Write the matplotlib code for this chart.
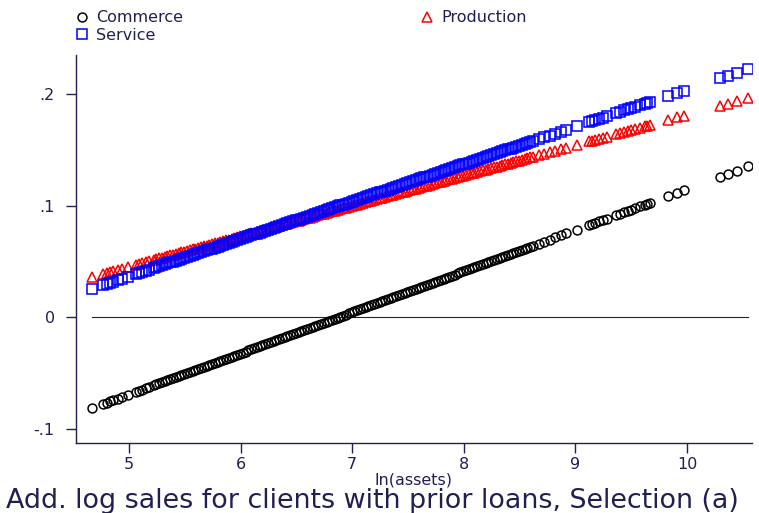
import matplotlib.pyplot as plt

# ln(assets) of the clients, one entry per plotted client
ln_assets = [
    4.67, 4.77, 4.80, 4.83, 4.86, 4.90, 4.94, 4.99, 5.06, 5.09, 5.12, 5.15, 5.18,
    5.22, 5.27, 5.32, 5.37, 5.42, 5.47, 5.52, 5.57, 5.62, 5.67,
    5.72, 5.77, 5.82, 5.87, 5.92, 5.97, 6.02, 6.07, 6.12, 6.17,
    6.22, 6.27, 6.32, 6.37, 6.42, 6.47, 6.52, 6.57, 6.62, 6.67,
    6.72, 6.77, 6.82, 6.87, 6.92, 6.97, 7.02, 7.07, 7.12, 7.17,
    7.22, 7.27, 7.32, 7.37, 7.42, 7.47, 7.52, 7.57, 7.62, 7.67,
    7.72, 7.77, 7.82, 7.87, 7.92, 7.97, 8.02, 8.07, 8.12, 8.17,
    8.22, 8.27, 8.32, 8.37, 8.42, 8.47, 8.52, 8.57, 8.62, 8.67,
    8.72, 8.77, 8.82, 8.87,
    8.92, 9.01, 9.12, 9.15, 9.18, 9.21, 9.25, 9.28, 9.36, 9.40,
    9.44, 9.47, 9.50, 9.53, 9.58, 9.62, 9.64, 9.67,
    9.83, 9.91, 9.97, 10.30, 10.37, 10.45, 10.55,
    # the crowded middle of the distribution
    5.245, 5.295, 5.345, 5.395, 5.445, 5.495, 5.545, 5.595, 5.645, 5.695,
    5.745, 5.795, 5.845, 5.895, 5.945, 5.995, 6.045, 6.095, 6.145, 6.195,
    6.245, 6.295, 6.345, 6.395, 6.445, 6.495, 6.545, 6.595, 6.645, 6.695,
    6.745, 6.795, 6.845, 6.895, 6.945, 6.995, 7.045, 7.095, 7.145, 7.195,
    7.245, 7.295, 7.345, 7.395, 7.445, 7.495, 7.545, 7.595, 7.645, 7.695,
    7.745, 7.795, 7.845, 7.895, 7.945, 7.995, 8.045, 8.095, 8.145, 8.195,
    8.245, 8.295, 8.345, 8.395, 8.445, 8.495, 8.545, 8.595,
]

# additional log sales by sector
commerce = [
    -0.0815, -0.0778, -0.0767, -0.0756, -0.0745, -0.0730, -0.0715, -0.0697, -0.0671, -0.0660, -0.0649, -0.0638, -0.0627,
    -0.0612, -0.0594, -0.0575, -0.0557, -0.0538, -0.0520, -0.0501, -0.0483, -0.0465, -0.0446,
    -0.0428, -0.0409, -0.0391, -0.0373, -0.0354, -0.0336, -0.0317, -0.0299, -0.0281, -0.0262,
    -0.0244, -0.0225, -0.0207, -0.0188, -0.0170, -0.0152, -0.0133, -0.0115, -0.0096, -0.0078,
    -0.0060, -0.0041, -0.0023, -0.0004, 0.0014, 0.0033, 0.0051, 0.0069, 0.0088, 0.0106,
    0.0125, 0.0143, 0.0161, 0.0180, 0.0198, 0.0217, 0.0235, 0.0254, 0.0272, 0.0290,
    0.0309, 0.0327, 0.0346, 0.0364, 0.0382, 0.0401, 0.0419, 0.0438, 0.0456, 0.0475,
    0.0493, 0.0511, 0.0530, 0.0548, 0.0567, 0.0585, 0.0603, 0.0622, 0.0640, 0.0659,
    0.0677, 0.0695, 0.0714, 0.0732,
    0.0751, 0.0784, 0.0824, 0.0835, 0.0846, 0.0858, 0.0872, 0.0883, 0.0913, 0.0928,
    0.0942, 0.0953, 0.0964, 0.0975, 0.0994, 0.1009, 0.1016, 0.1027,
    0.1086, 0.1115, 0.1137, 0.1259, 0.1285, 0.1314, 0.1351,
    -0.0603, -0.0584, -0.0566, -0.0548, -0.0529, -0.0511, -0.0492, -0.0474, -0.0455, -0.0437,
    -0.0419, -0.0400, -0.0382, -0.0363, -0.0345, -0.0327, -0.0308, -0.0290, -0.0271, -0.0253,
    -0.0234, -0.0216, -0.0198, -0.0179, -0.0161, -0.0142, -0.0124, -0.0106, -0.0087, -0.0069,
    -0.0050, -0.0032, -0.0013, 0.0005, 0.0023, 0.0042, 0.0060, 0.0079, 0.0097, 0.0115,
    0.0134, 0.0152, 0.0171, 0.0189, 0.0207, 0.0226, 0.0244, 0.0263, 0.0281, 0.0300,
    0.0318, 0.0336, 0.0355, 0.0373, 0.0392, 0.0410, 0.0428, 0.0447, 0.0465, 0.0484,
    0.0502, 0.0521, 0.0539, 0.0557, 0.0576, 0.0594, 0.0613, 0.0631,
]

production = [
    0.0362, 0.0389, 0.0398, 0.0406, 0.0414, 0.0425, 0.0436, 0.0449, 0.0468, 0.0477, 0.0485, 0.0493, 0.0501,
    0.0512, 0.0526, 0.0539, 0.0553, 0.0566, 0.0580, 0.0594, 0.0607, 0.0621, 0.0635,
    0.0648, 0.0662, 0.0675, 0.0689, 0.0703, 0.0716, 0.0730, 0.0744, 0.0757, 0.0771,
    0.0784, 0.0798, 0.0812, 0.0825, 0.0839, 0.0853, 0.0866, 0.0880, 0.0893, 0.0907,
    0.0921, 0.0934, 0.0948, 0.0962, 0.0975, 0.0989, 0.1002, 0.1016, 0.1030, 0.1043,
    0.1057, 0.1071, 0.1084, 0.1098, 0.1111, 0.1125, 0.1139, 0.1152, 0.1166, 0.1180,
    0.1193, 0.1207, 0.1220, 0.1234, 0.1248, 0.1261, 0.1275, 0.1289, 0.1302, 0.1316,
    0.1329, 0.1343, 0.1357, 0.1370, 0.1384, 0.1398, 0.1411, 0.1425, 0.1438, 0.1452,
    0.1466, 0.1479, 0.1493, 0.1507,
    0.1520, 0.1545, 0.1575, 0.1583, 0.1591, 0.1599, 0.1610, 0.1618, 0.1640, 0.1651,
    0.1662, 0.1670, 0.1678, 0.1686, 0.1700, 0.1711, 0.1716, 0.1725,
    0.1768, 0.1790, 0.1806, 0.1896, 0.1915, 0.1937, 0.1964,
    0.0519, 0.0532, 0.0546, 0.0560, 0.0573, 0.0587, 0.0601, 0.0614, 0.0628, 0.0641,
    0.0655, 0.0669, 0.0682, 0.0696, 0.0710, 0.0723, 0.0737, 0.0750, 0.0764, 0.0778,
    0.0791, 0.0805, 0.0819, 0.0832, 0.0846, 0.0859, 0.0873, 0.0887, 0.0900, 0.0914,
    0.0928, 0.0941, 0.0955, 0.0968, 0.0982, 0.0996, 0.1009, 0.1023, 0.1037, 0.1050,
    0.1064, 0.1077, 0.1091, 0.1105, 0.1118, 0.1132, 0.1146, 0.1159, 0.1173, 0.1186,
    0.1200, 0.1214, 0.1227, 0.1241, 0.1255, 0.1268, 0.1282, 0.1295, 0.1309, 0.1323,
    0.1336, 0.1350, 0.1364, 0.1377, 0.1391, 0.1404, 0.1418, 0.1432,
]

service = [
    0.0255, 0.0289, 0.0299, 0.0309, 0.0319, 0.0332, 0.0346, 0.0363, 0.0386, 0.0396, 0.0406, 0.0416, 0.0426,
    0.0440, 0.0456, 0.0473, 0.0490, 0.0507, 0.0523, 0.0540, 0.0557, 0.0574, 0.0590,
    0.0607, 0.0624, 0.0641, 0.0657, 0.0674, 0.0691, 0.0708, 0.0724, 0.0741, 0.0758,
    0.0774, 0.0791, 0.0808, 0.0825, 0.0841, 0.0858, 0.0875, 0.0892, 0.0908, 0.0925,
    0.0942, 0.0959, 0.0975, 0.0992, 0.1009, 0.1026, 0.1042, 0.1059, 0.1076, 0.1093,
    0.1109, 0.1126, 0.1143, 0.1160, 0.1176, 0.1193, 0.1210, 0.1227, 0.1243, 0.1260,
    0.1277, 0.1294, 0.1310, 0.1327, 0.1344, 0.1361, 0.1377, 0.1394, 0.1411, 0.1428,
    0.1444, 0.1461, 0.1478, 0.1495, 0.1511, 0.1528, 0.1545, 0.1561, 0.1578, 0.1595,
    0.1612, 0.1628, 0.1645, 0.1662,
    0.1679, 0.1709, 0.1746, 0.1756, 0.1766, 0.1776, 0.1789, 0.1799, 0.1826, 0.1839,
    0.1853, 0.1863, 0.1873, 0.1883, 0.1900, 0.1913, 0.1920, 0.1930,
    0.1983, 0.2010, 0.2030, 0.2141, 0.2164, 0.2191, 0.2225,
    0.0448, 0.0465, 0.0481, 0.0498, 0.0515, 0.0532, 0.0548, 0.0565, 0.0582, 0.0599,
    0.0615, 0.0632, 0.0649, 0.0666, 0.0682, 0.0699, 0.0716, 0.0733, 0.0749, 0.0766,
    0.0783, 0.0800, 0.0816, 0.0833, 0.0850, 0.0867, 0.0883, 0.0900, 0.0917, 0.0934,
    0.0950, 0.0967, 0.0984, 0.1001, 0.1017, 0.1034, 0.1051, 0.1068, 0.1084, 0.1101,
    0.1118, 0.1135, 0.1151, 0.1168, 0.1185, 0.1201, 0.1218, 0.1235, 0.1252, 0.1268,
    0.1285, 0.1302, 0.1319, 0.1335, 0.1352, 0.1369, 0.1386, 0.1402, 0.1419, 0.1436,
    0.1453, 0.1469, 0.1486, 0.1503, 0.1520, 0.1536, 0.1553, 0.1570,
]

y_ticks = [-0.1, 0, 0.1, 0.2]
y_labels = ['-.1', '0', '.1', '.2']
x_ticks = [5, 6, 7, 8, 9, 10]

navy = '#1f1f52'
plt.rcParams['font.family'] = ['DejaVu Sans']

fig = plt.figure(figsize=(7.59, 5.13), dpi=100)
ax = fig.add_axes([0.1001, 0.1365, 0.8906, 0.7563])

h_c, = ax.plot(ln_assets, commerce, ls='none', marker='o', ms=6.4, mfc='none',
               mec='black', mew=1.1, label='Commerce')
h_p, = ax.plot(ln_assets, production, ls='none', marker='^', ms=6.8, mfc='none',
               mec='red', mew=1.1, label='Production')
h_s, = ax.plot(ln_assets, service, ls='none', marker='s', ms=6.6, mfc='none',
               mec='blue', mew=1.1, label='Service')

# reference line at zero over the range of the data
ax.plot([min(ln_assets), max(ln_assets)], [0, 0], color=navy, lw=0.8, zorder=0)

ax.set_xlim(4.525, 10.582)
ax.set_ylim(-0.1128, 0.235)
ax.set_xticks(x_ticks)
ax.set_xticklabels([str(t) for t in x_ticks])
ax.set_yticks(y_ticks)
ax.set_yticklabels(y_labels)

for side in ['top', 'right']:
    ax.spines[side].set_visible(False)
for side in ['left', 'bottom']:
    ax.spines[side].set_color(navy)
    ax.spines[side].set_linewidth(1.0)

ax.tick_params(axis='both', direction='out', length=7.3, width=1.0,
               color=navy, labelcolor=navy, labelsize=11.5)
ax.tick_params(axis='y', pad=8)
ax.tick_params(axis='x', pad=3)

ax.set_xlabel('ln(assets)', fontsize=11.5, color=navy, labelpad=0)

fig.legend(handles=[h_c, h_s, h_p], loc='upper left',
           bbox_to_anchor=(76 / 759, 1 - 10.5 / 513), ncol=2, frameon=False,
           prop={'size': 11.5}, labelcolor=navy,
           handlelength=0.8, handletextpad=0.45, columnspacing=14.9,
           labelspacing=0.13, borderpad=0, borderaxespad=0)

fig.text(0.4908, 0.0097, 'Add. log sales for clients with prior loans, Selection (a)',
         ha='center', va='baseline', fontsize=19.4, color=navy)

fig.savefig('out.png', dpi=100)
